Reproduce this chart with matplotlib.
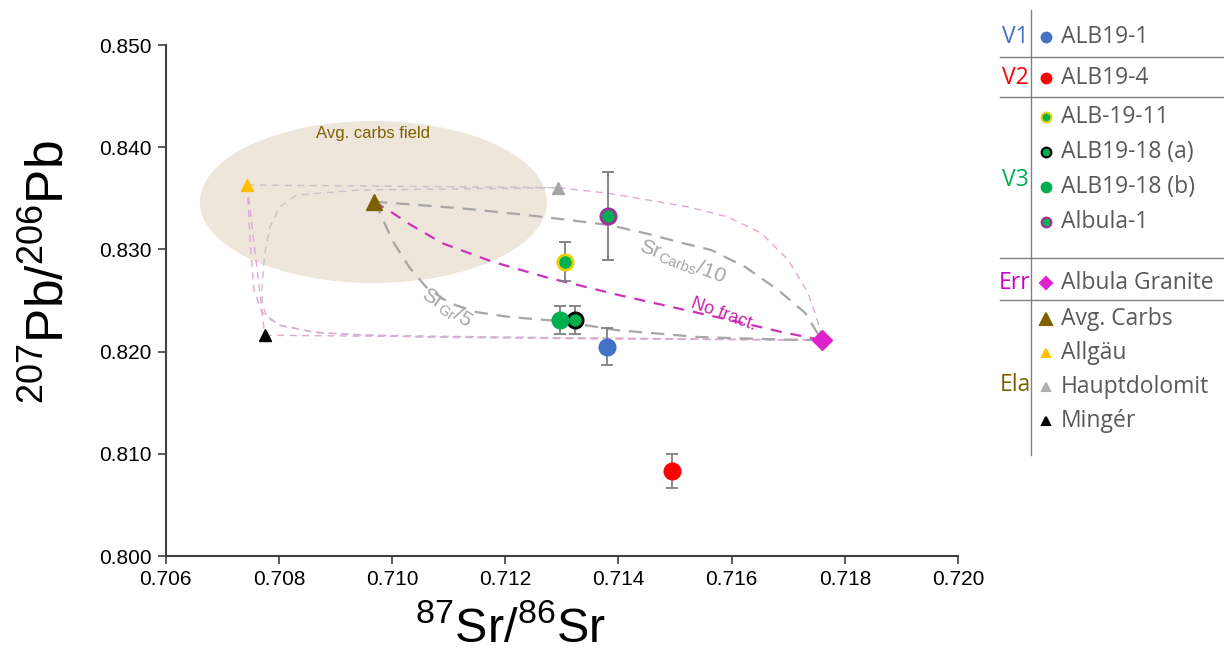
import matplotlib
matplotlib.use('Agg')
import matplotlib.pyplot as plt
from matplotlib.patches import Ellipse
from matplotlib.lines import Line2D
import numpy as np

# samples: name, Sr, Pb, Pb error
names = ['ALB19-1', 'ALB19-4', 'ALB-19-11', 'ALB19-18 (a)', 'ALB19-18 (b)', 'Albula-1']
sr = [0.71380, 0.71494, 0.71305, 0.71323, 0.71297, 0.71382]
pb = [0.82048, 0.80832, 0.82880, 0.82309, 0.82309, 0.83327]
pb_err = [0.0018, 0.0017, 0.0019, 0.0014, 0.0014, 0.0043]
face = ['#4472C4', '#FF0000', '#00B050', '#00B050', '#00B050', '#00B050']
edge = ['#4472C4', '#FF0000', '#E8D000', '#000000', '#00B050', '#A0309C']

# end members
granite = (0.71759, 0.82113)
avg_carbs = (0.70968, 0.83467)
allgau = (0.70744, 0.83630)
haupt = (0.71294, 0.83604)
minger = (0.70775, 0.82160)

# carbs field
field_center = (0.70967, 0.83464)
field_w, field_h = 0.00613, 0.01585

# mixing curves
srgr_x = [0.70968, 0.70974, 0.71000, 0.71030, 0.71060, 0.71101, 0.71149, 0.71207, 0.71272, 0.71297,
          0.71395, 0.71541, 0.71688, 0.71759]
srgr_y = [0.83467, 0.83415, 0.83092, 0.82828, 0.82632, 0.82476, 0.82387, 0.82339, 0.82309, 0.82300,
          0.82211, 0.82143, 0.82118, 0.82113]
src_x = [0.70968, 0.71048, 0.71136, 0.71237, 0.71312, 0.71383, 0.71453, 0.71506, 0.71564, 0.71624,
         0.71682, 0.71730, 0.71759]
src_y = [0.83467, 0.83434, 0.83395, 0.83337, 0.83288, 0.83239, 0.83151, 0.83072, 0.82994, 0.82828,
         0.82603, 0.82378, 0.82113]
nof_x = [0.70968, 0.71000, 0.71030, 0.71089, 0.71177, 0.71277, 0.71307, 0.71400, 0.71518, 0.71612,
         0.71688, 0.71759]
nof_y = [0.83467, 0.83360, 0.83250, 0.83060, 0.82880, 0.82720, 0.82681, 0.82554, 0.82407, 0.82290,
         0.82192, 0.82113]
hd_x = [0.71294, 0.71378, 0.71453, 0.71524, 0.71594, 0.71652, 0.71700, 0.71735, 0.71753, 0.71759]
hd_y = [0.83604, 0.83552, 0.83483, 0.83415, 0.83317, 0.83160, 0.82896, 0.82573, 0.82280, 0.82113]
loop_x = [0.71294, 0.71101, 0.70942, 0.70831, 0.70801, 0.70784, 0.70775, 0.70770, 0.70771, 0.70780,
          0.70805, 0.70860, 0.70942, 0.71189, 0.71541, 0.71759]
loop_y = [0.83604, 0.83591, 0.83581, 0.83532, 0.83415, 0.83219, 0.82965, 0.82632, 0.82456, 0.82329,
          0.82250, 0.82192, 0.82162, 0.82143, 0.82123, 0.82113]
ag_x = [0.70744, 0.70749, 0.70756, 0.70770, 0.70801, 0.70872, 0.71048, 0.71365, 0.71759]
ag_y = [0.83630, 0.83092, 0.82603, 0.82387, 0.82260, 0.82182, 0.82143, 0.82123, 0.82113]

groups = ['V1', 'V2', 'V3', 'Err', 'Ela']
group_colors = ['#4472C4', '#FF0000', '#00B050', '#CC00CC', '#7F6000']
legend_labels = ['ALB19-1', 'ALB19-4', 'ALB-19-11', 'ALB19-18 (a)', 'ALB19-18 (b)', 'Albula-1',
                 'Albula Granite', 'Avg. Carbs', 'Allgäu', 'Hauptdolomit', 'Mingér']

plt.rcParams['font.family'] = ['Liberation Sans', 'DejaVu Sans']
plt.rcParams['mathtext.fontset'] = 'custom'
plt.rcParams['mathtext.rm'] = 'Liberation Sans'
fig = plt.figure(figsize=(12.24, 6.62), dpi=100)
ax = fig.add_axes([0.1354, 0.1601, 0.6473, 0.7719])

ax.add_patch(Ellipse(field_center, field_w, field_h, facecolor='#EEE5DB', edgecolor='none', zorder=0))
ax.text(field_center[0], 0.84139, 'Avg. carbs field', color='#7F6000', fontsize=12, ha='center', va='center')

pink = '#DDA8D6'
lg = '#C9BFC6'
ax.plot([allgau[0], haupt[0]], [allgau[1], haupt[1]], color=lg, lw=1, dashes=(5, 4), zorder=1)
ax.plot([allgau[0], minger[0]], [allgau[1], minger[1]], color=pink, lw=1, dashes=(5, 4), zorder=1)
ax.plot([minger[0], granite[0]], [minger[1], granite[1]], color=pink, lw=1, dashes=(5, 4), zorder=1)
ax.plot(hd_x, hd_y, color=pink, lw=1, dashes=(5, 4), zorder=1)
ax.plot(loop_x, loop_y, color=lg, lw=1, dashes=(5, 4), zorder=1)
ax.plot(ag_x, ag_y, color=pink, lw=1, dashes=(5, 4), zorder=1)

ax.plot(srgr_x, srgr_y, color='#A6A6A6', lw=1.6, dashes=(6, 4), zorder=2)
ax.plot(src_x, src_y, color='#A6A6A6', lw=1.6, dashes=(6, 4), zorder=2)
ax.plot(nof_x, nof_y, color='#CC33BB', lw=1.6, dashes=(5, 4), zorder=2)

ax.text(0.71514, 0.82877, r'Sr$_{\mathrm{Carbs}}$/10', color='#A6A6A6', fontsize=15,
        rotation=-21, ha='center', va='center')
ax.text(0.71096, 0.82427, r'Sr$_{\mathrm{Gr}}$/5', color='#A6A6A6', fontsize=15,
        rotation=-33, ha='center', va='center')
ax.text(0.71586, 0.82360, 'No fract.', color='#CC22AA', fontsize=13,
        rotation=-20, ha='center', va='center')

for i in range(len(names)):
    ax.errorbar(sr[i], pb[i], yerr=pb_err[i], fmt='none', ecolor='#7F7F7F', elinewidth=1.3,
                capsize=4, capthick=1.3, zorder=3)
    ax.plot(sr[i], pb[i], 'o', ms=11, mfc=face[i], mec=edge[i], mew=2, zorder=4)

ax.plot(*granite, 'D', ms=10, color='#DD22CC', zorder=4)
ax.plot(*avg_carbs, '^', ms=12, color='#7F6000', zorder=4)
ax.plot(*allgau, '^', ms=8, color='#FFC000', zorder=4)
ax.plot(*haupt, '^', ms=8, color='#A6A6A6', zorder=4)
ax.plot(*minger, '^', ms=8, color='#000000', zorder=4)

ax.set_xlim(0.706, 0.720)
ax.set_ylim(0.800, 0.850)
ax.set_xticks(np.arange(0.706, 0.7201, 0.002))
ax.set_yticks(np.arange(0.800, 0.8501, 0.010))
ax.xaxis.set_major_formatter(plt.FormatStrFormatter('%.3f'))
ax.yaxis.set_major_formatter(plt.FormatStrFormatter('%.3f'))
for s in ['top', 'right']:
    ax.spines[s].set_visible(False)
for s in ['left', 'bottom']:
    ax.spines[s].set_color('#404040')
    ax.spines[s].set_linewidth(1.5)
ax.tick_params(direction='out', length=6, width=1.2, color='#404040', labelsize=15, pad=4)
ax.set_xlabel(r'$^{87}$Sr/$^{86}$Sr', fontsize=35)
ax.xaxis.set_label_coords(0.435, -0.098)
ax.set_ylabel(r'$^{207}$Pb/$^{206}$Pb', fontsize=37)
ax.yaxis.set_label_coords(-0.115, 0.555)

# legend table on the right
W, H = 1224.0, 662.0
def fx(px): return px / W
def fy(py): return 1 - py / H

fig.add_artist(Line2D([fx(1031), fx(1031)], [fy(10), fy(455)], color='#808080', lw=1))
for yl in [57, 97, 258, 300]:
    fig.add_artist(Line2D([fx(1000), fx(1224)], [fy(yl), fy(yl)], color='#808080', lw=1))
group_y = [37, 78, 180, 283, 385]
for g, c, yy in zip(groups, group_colors, group_y):
    fig.text(fx(1015), fy(yy), g, color=c, fontsize=16.5, ha='center', va='center', family='Open Sans')
row_y = [37, 78, 117, 152, 187, 222, 283, 319, 353, 387, 421]
leg_mk = ['o', 'o', 'o', 'o', 'o', 'o', 'D', '^', '^', '^', '^']
leg_ms = [7, 7, 7, 7, 7, 7, 6, 8, 6, 6, 6]
leg_fc = face + ['#DD22CC', '#7F6000', '#FFC000', '#B0B0B0', '#000000']
leg_ec = edge + ['#DD22CC', '#7F6000', '#FFC000', '#B0B0B0', '#000000']
for lab, yy, m, ms, fc, ec in zip(legend_labels, row_y, leg_mk, leg_ms, leg_fc, leg_ec):
    fig.add_artist(Line2D([fx(1046)], [fy(yy)], marker=m, ms=ms, mfc=fc, mec=ec, mew=1.5, ls='none'))
    fig.text(fx(1061), fy(yy), lab, color='#595959', fontsize=16.5, ha='left', va='center', family='Open Sans')

fig.savefig('out.png', dpi=100)
